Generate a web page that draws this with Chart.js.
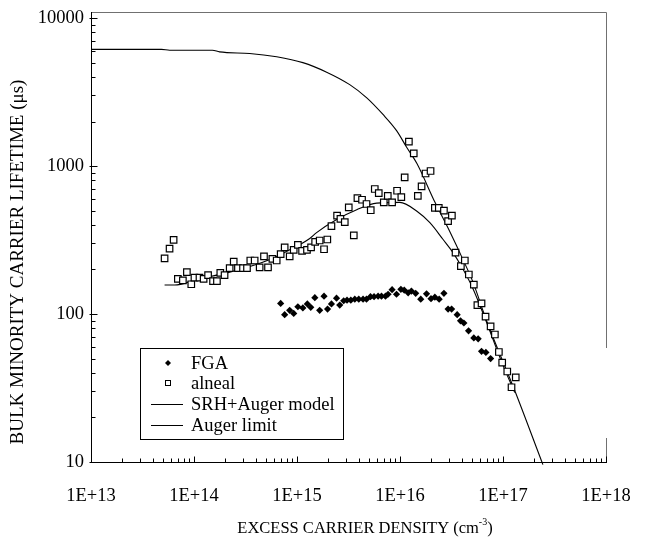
<!DOCTYPE html>
<html><head><meta charset="utf-8">
<script src="https://cdn.jsdelivr.net/npm/chart.js@4.4.0/dist/chart.umd.min.js"></script>
<style>html,body{margin:0;padding:0;background:#fff;}#wrap{width:659px;height:544px;position:relative;}</style>
</head><body><div id="wrap"><canvas id="c" width="659" height="544"></canvas></div>
<script>
const xTickValues = [1e13, 1e14, 1e15, 1e16, 1e17, 1e18];
const xTickLabels = ['1E+13', '1E+14', '1E+15', '1E+16', '1E+17', '1E+18'];
const yTickValues = [10, 100, 1000, 10000];
const yTickLabels = ['10', '100', '1000', '10000'];
const xTitleMain = 'EXCESS CARRIER DENSITY (cm';
const xTitleSup = '-3';
const xTitleEnd = ')';
const yTitle = 'BULK MINORITY CARRIER LIFETIME (\u03BCs)';

const fgaDensity = [6.94e14,7.59e14,8.49e14,9.29e14,1.02e15,1.14e15,1.26e15,1.36e15,1.49e15,1.66e15,1.83e15,1.98e15,2.16e15,2.42e15,2.60e15,2.84e15,3.06e15,3.33e15,3.64e15,3.98e15,4.38e15,4.73e15,5.17e15,5.60e15,6.13e15,6.61e15,7.23e15,7.66e15,8.38e15,9.25e15,1.02e16,1.10e16,1.20e16,1.29e16,1.42e16,1.59e16,1.81e16,2.00e16,2.18e16,2.40e16,2.67e16,2.93e16,3.17e16,3.59e16,3.87e16,4.17e16,4.63e16,5.21e16,5.74e16,6.19e16,6.82e16,7.58e16];
const fgaLifetime = [118,99,106,101,112,110,117,111,129,106,132,108,117,128,115,123,124,124,126,126,126,126,131,131,132,132,132,136,146,136,147,145,139,143,138,126,137,127,130,126,138,108,108,99,90,87,77,69,68,56,55,50];

const alnealDensity = [5.18e13,5.79e13,6.34e13,6.97e13,7.80e13,8.53e13,9.41e13,1.01e14,1.13e14,1.24e14,1.37e14,1.53e14,1.67e14,1.80e14,1.98e14,2.22e14,2.43e14,2.67e14,2.99e14,3.27e14,3.52e14,3.88e14,4.34e14,4.78e14,5.23e14,5.77e14,6.35e14,6.94e14,7.59e14,8.49e14,9.29e14,1.02e15,1.12e15,1.25e15,1.37e15,1.50e15,1.66e15,1.83e15,1.97e15,2.16e15,2.45e15,2.64e15,2.91e15,3.18e15,3.56e15,3.86e15,4.28e15,4.73e15,5.20e15,5.69e15,6.22e15,6.96e15,7.61e15,8.38e15,9.37e15,1.03e16,1.11e16,1.22e16,1.36e16,1.49e16,1.62e16,1.77e16,1.98e16,2.18e16,2.38e16,2.67e16,2.93e16,3.19e16,3.46e16,3.90e16,4.26e16,4.66e16,5.21e16,5.64e16,6.19e16,6.77e16,7.58e16,8.34e16,9.12e16,9.82e16,1.10e17,1.21e17,1.33e17];
const alnealLifetime = [238,277,317,173,169,192,159,176,176,173,183,167,167,190,183,204,226,204,204,204,230,230,207,245,207,236,230,254,282,245,271,293,267,271,282,307,314,274,319,393,463,440,418,526,340,607,592,554,503,700,656,568,629,568,681,617,838,1463,1217,629,728,891,926,521,521,500,425,463,260,211,230,185,158,115,118,96,82.5,72.7,55.4,47.0,40.9,32.0,37.3];

const srhDensity = [5.18e13,6.48e13,1.06e14,2.22e14,4.64e14,7.6e14,1.33e15,1.55e15,2.43e15,3.8e15,5.94e15,9.95e15,1.46e16,1.95e16,2.61e16,3.26e16,4.07e16,5.1e16,6.67e16,1.0e17,1.3e17];
const srhLifetime = [157,157,171,192,224,261,324,355,435,507,562,568,495,414,320,261,202,149,94,45,29.5];

const augerDensity = [1e13,4.84e13,5.8e13,1.51e14,1.77e14,3.47e14,6.35e14,1.14e15,1.94e15,3.25e15,4.76e15,6.8e15,9.3e15,1.16e16,1.46e16,2.18e16,3.05e16,4.07e16,5.1e16,6.97e16,1.3e17,2.44e17];
const augerLifetime = [6150,6150,6070,6070,5910,5770,5480,5000,4310,3550,2890,2240,1730,1340,1040,571,360,235,165,89,30.4,9.6];

const seriesNames = ['FGA', 'alneal', 'SRH+Auger model', 'Auger limit'];

const FONT = 'Liberation Serif, "Times New Roman", serif';
const zip = (xs, ys) => xs.map((x, i) => ({x: x, y: ys[i]}));

const framePlugin = {
  id: 'frame',
  afterDraw(chart) {
    const ctx = chart.ctx;
    const xs = chart.scales.x, ys = chart.scales.y;
    const L = 91.5, R = 606.5, T = 12.5, B = 462.5;
    ctx.save();
    ctx.lineWidth = 1;
    ctx.strokeStyle = '#707070';
    ctx.beginPath();
    ctx.moveTo(L, T); ctx.lineTo(R, T);
    ctx.moveTo(R, T); ctx.lineTo(R, 348);
    ctx.moveTo(R, 438); ctx.lineTo(R, B);
    ctx.stroke();
    ctx.strokeStyle = '#000';
    ctx.beginPath();
    ctx.moveTo(L, T - 0.5); ctx.lineTo(L, B + 0.5);
    ctx.moveTo(L - 0.5, B); ctx.lineTo(R + 0.5, B);
    for (let d = 13; d <= 18; d++) {
      for (let m = 1; m <= 9; m++) {
        if (d === 18 && m > 1) break;
        const px = Math.round(xs.getPixelForValue(m * Math.pow(10, d))) + 0.5;
        const len = m === 1 ? 6 : 4;
        ctx.moveTo(px, B); ctx.lineTo(px, B - len);
      }
    }
    for (let d = 1; d <= 4; d++) {
      for (let m = 1; m <= 9; m++) {
        if (d === 4 && m > 1) break;
        const py = Math.round(ys.getPixelForValue(m * Math.pow(10, d))) + 0.5;
        const len = m === 1 ? 6 : 4;
        ctx.moveTo(m === 1 ? L - 2 : L, py); ctx.lineTo(L + len, py);
      }
    }
    ctx.stroke();

    // axis titles
    ctx.fillStyle = '#000';
    ctx.textBaseline = 'alphabetic';
    ctx.textAlign = 'left';
    ctx.font = '16.5px ' + FONT;
    const w1 = ctx.measureText(xTitleMain).width;
    ctx.font = '10px ' + FONT;
    const w2 = ctx.measureText(xTitleSup).width;
    ctx.font = '16.5px ' + FONT;
    const w3 = ctx.measureText(xTitleEnd).width;
    let sx = 365 - (w1 + w2 + w3) / 2;
    const by = 533;
    ctx.fillText(xTitleMain, sx, by);
    ctx.font = '10px ' + FONT;
    ctx.fillText(xTitleSup, sx + w1, by - 8);
    ctx.font = '16.5px ' + FONT;
    ctx.fillText(xTitleEnd, sx + w1 + w2, by);

    ctx.save();
    ctx.translate(18, 262);
    ctx.rotate(-Math.PI / 2);
    ctx.font = '19px ' + FONT;
    ctx.textAlign = 'center';
    ctx.textBaseline = 'middle';
    ctx.fillText(yTitle, 0, 0);
    ctx.restore();

    // legend box
    const ds = chart.data.datasets;
    ctx.strokeStyle = '#000';
    ctx.strokeRect(140.5, 348.5, 203, 91);
    const rows = [363, 383, 404, 425];
    ctx.font = '18.5px ' + FONT;
    ctx.fillStyle = '#000';
    ctx.textBaseline = 'middle';
    ctx.textAlign = 'left';
    rows.forEach((y, i) => {
      const d = ds[i];
      if (i === 0) {
        ctx.beginPath();
        ctx.moveTo(168, y - 3); ctx.lineTo(171, y); ctx.lineTo(168, y + 3); ctx.lineTo(165, y);
        ctx.closePath(); ctx.fill();
      } else if (i === 1) {
        ctx.fillStyle = '#fff';
        ctx.fillRect(165.5, y - 2.5, 5, 5);
        ctx.strokeRect(165.5, y - 2.5, 5, 5);
        ctx.fillStyle = '#000';
      } else {
        ctx.beginPath();
        ctx.lineWidth = 1;
        ctx.moveTo(151, y + 0.5); ctx.lineTo(183, y + 0.5);
        ctx.stroke();
      }
      ctx.fillText(d.label, 191, y + 1);
    });
    ctx.restore();
  }
};

new Chart(document.getElementById('c'), {
  type: 'scatter',
  data: {
    datasets: [
      {label: seriesNames[0], data: zip(fgaDensity, fgaLifetime), pointStyle: 'rectRot', pointRadius: 3.6, pointBackgroundColor: '#000', pointBorderColor: '#000', pointBorderWidth: 0, showLine: false},
      {label: seriesNames[1], data: zip(alnealDensity, alnealLifetime), pointStyle: 'rect', pointRadius: 4.6, pointBackgroundColor: '#fff', pointBorderColor: '#000', pointBorderWidth: 1.2, showLine: false},
      {label: seriesNames[2], data: zip(srhDensity, srhLifetime), showLine: true, pointRadius: 0, borderColor: '#000', borderWidth: 1.1, cubicInterpolationMode: 'monotone'},
      {label: seriesNames[3], data: zip(augerDensity, augerLifetime), showLine: true, pointRadius: 0, borderColor: '#000', borderWidth: 1.1, cubicInterpolationMode: 'monotone', clip: {left: 0, top: 0, right: 0, bottom: 4}}
    ]
  },
  options: {
    responsive: false,
    animation: false,
    devicePixelRatio: 1,
    layout: {padding: {left: 0, right: 53, top: 12, bottom: 0}},
    plugins: {legend: {display: false}, tooltip: {enabled: false}},
    scales: {
      x: {
        type: 'logarithmic', min: 1e13, max: 1e18,
        afterFit: s => { s.height = 82; },
        afterBuildTicks: s => { s.ticks = xTickValues.map(v => ({value: v, major: true})); },
        grid: {display: false, drawTicks: false},
        border: {display: false},
        ticks: {autoSkip: false, maxRotation: 0, padding: 23, color: '#000', font: {family: FONT, size: 18.5},
          callback: (v) => { const i = xTickValues.indexOf(v); return i >= 0 ? xTickLabels[i] : ''; }},
        title: {display: false}
      },
      y: {
        type: 'logarithmic', min: 10, max: 10000,
        afterFit: s => { s.width = 91; },
        afterBuildTicks: s => { s.ticks = yTickValues.map(v => ({value: v, major: true})); },
        grid: {display: false, drawTicks: false},
        border: {display: false},
        ticks: {autoSkip: false, padding: 7, color: '#000', font: {family: FONT, size: 18.5},
          callback: (v) => { const i = yTickValues.indexOf(v); return i >= 0 ? yTickLabels[i] : ''; }},
        title: {display: false}
      }
    }
  },
  plugins: [framePlugin]
});
</script></body></html>
